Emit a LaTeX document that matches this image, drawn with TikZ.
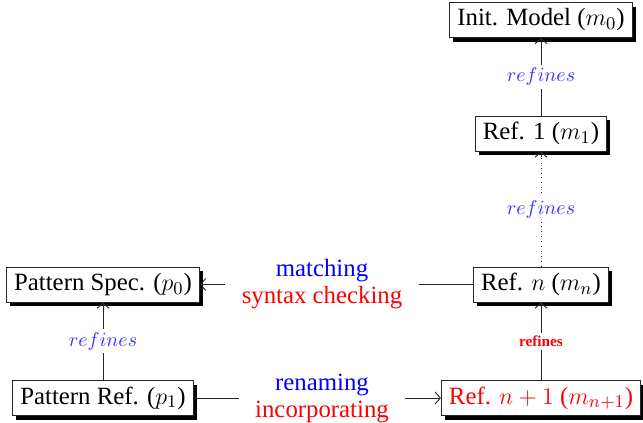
\documentclass[tikz,border=0pt]{standalone}
\usepackage{fontspec}
\setmainfont{Liberation Serif}
\usetikzlibrary{shadows,arrows.meta}

\tikzset{
  x=0.5pt, y=-0.5pt,
  model/.style={draw=black!85, line width=0.45pt, fill=white,
    inner xsep=3.8pt, inner ysep=3pt, minimum height=17.5pt,
    font=\fontsize{12.4}{14}\selectfont,
    drop shadow={shadow xshift=1.8pt, shadow yshift=-2pt, fill=black, opacity=1}},
  link/.style={line width=0.45pt, draw=black!85},
  rel/.style={link, -{Straight Barb[length=2.6pt,width=6pt]}},
  reflabel/.style={fill=white, inner sep=1.5pt, text=blue!80,
    font=\fontsize{9.6}{12}\selectfont},
  stepname/.style={align=center, inner xsep=8pt, inner ysep=0pt,
    font=\fontsize{12.4}{13.5}\selectfont},
}

\begin{document}
\begin{tikzpicture}
\useasboundingbox (0,0) rectangle (643,423);

% model refinement chain
\node[model] (init) at (541,20) {Init. Model ($m_0$)};
\node[model] (ref1) at (541,133.5) {Ref. 1 ($m_1$)};
\node[model] (refn) at (541,284.5) {Ref. $n$ ($m_n$)};
\node[model, text=red] (refnn) at (541,398) {Ref. $n+1$ ($m_{n+1}$)};

% pattern side
\node[model] (pspec) at (103,284.5) {Pattern Spec. ($p_0$)};
\node[model] (pref) at (103,398) {Pattern Ref. ($p_1$)};

% transformation steps
\node[stepname] (match) at (322,284.5)
  {\textcolor{blue}{matching}\\\textcolor{red}{syntax checking}};
\node[stepname] (rename) at (322,398)
  {\textcolor{blue}{renaming}\\\textcolor{red}{incorporating}};

% refinement links
\draw[rel] (ref1) -- node[reflabel] {$refines$} (init);
\draw[link, dotted] (refn) -- node[reflabel] {$refines$} (ref1);
\coordinate (tipstart) at ([yshift=-3pt]ref1.south);
\draw[rel] (tipstart) -- (ref1);
\draw[rel] (refnn) -- node[fill=white, inner sep=1.5pt, text=red,
  font=\fontsize{7.6}{9}\selectfont\bfseries] {refines} (refn);
\draw[rel] (pref) -- node[reflabel] {$refines$} (pspec);

% step connectors
\draw[link] (refn) -- (match);
\draw[rel] (match) -- (pspec);
\draw[link] (pref) -- (rename);
\draw[rel] (rename) -- (refnn);
\end{tikzpicture}
\end{document}
